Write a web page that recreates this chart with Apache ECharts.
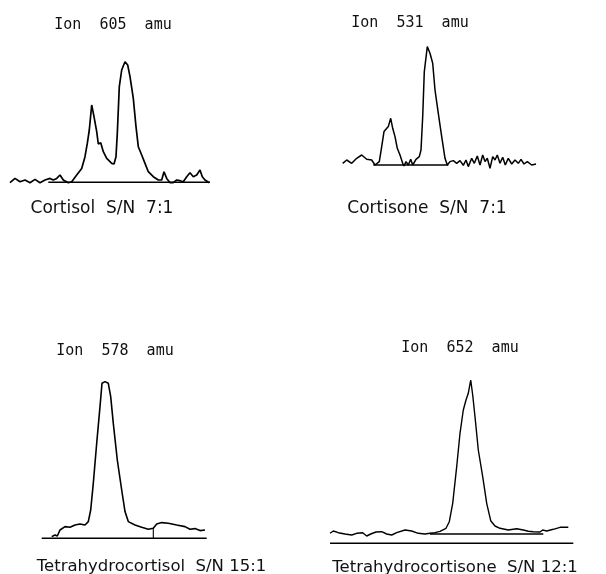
<!DOCTYPE html>
<html><head><meta charset="utf-8">
<script src="https://cdn.jsdelivr.net/npm/echarts@6/dist/echarts.min.js"></script>
<style>html,body{margin:0;padding:0;background:#fff}#c{width:606px;height:574px}</style>
</head><body><div id="c"></div>
<script>
// Panel 1: Ion 605 amu, Cortisol
const cortisolTrace = [[0,-1],[5,3.3],[10,0],[15,1.7],[20,-1],[25,2.3],[30,-1],[35,1.7],[40,3.3],[43.3,1.7],[46.7,3.3],[50,6.7],[53.3,1.7],[58.3,-1],[61.7,0],[66.7,6.7],[71.7,13.3],[75,25],[77.3,38.3],[79.3,51.7],[81.7,76.7],[84,65],[86.7,50],[88.3,37.7],[90.7,39],[93.3,30],[96.7,23.3],[101.7,18.3],[104,17.7],[106,25],[107.3,48.3],[109.3,95],[111.7,111.7],[115,120],[117.7,116.7],[120,105],[123.3,83.3],[126,55],[128.3,35],[131.7,26.7],[135,18.3],[138.3,10],[143.3,5],[148.3,1.7],[151.7,1.7],[154,10],[156.7,3.3],[160,-1],[163.3,-1],[166.7,1.7],[170,1],[173.3,0],[176.7,5],[180,9],[183.3,5],[186.7,6.7],[190,11.7],[192.3,5],[195,1.7],[199.3,-1]];
const cortisolBase = [[38.3,-0.5],[200,-0.5]];
// Panel 2: Ion 531 amu, Cortisone
const cortisoneTrace = [[0.7,1],[4.7,4.3],[9.7,1],[14.7,6],[19.7,9.3],[24.7,5],[29.7,4.3],[33,-0.7],[37.3,2.7],[39.7,17.7],[42,32.7],[46.3,37.7],[48.7,46],[50.7,36],[53,27.7],[55.3,16],[58,9.3],[60.7,1],[62,-1.7],[64,2.7],[66.3,-0.7],[68.7,5],[70.7,-0.7],[74,5],[77.3,7.7],[79,14.3],[80.7,47.7],[82.3,92.7],[85.3,117.7],[88,111],[90.7,101],[93,74.3],[96.3,51],[99.7,27.7],[103,6],[105.3,-0.7],[108,2.7],[111.3,3.7],[114.7,1],[118,3.7],[121.3,-1],[124,4.3],[126.3,-2.3],[129.7,6],[132.3,1],[135.3,8.3],[138,-0.7],[140.7,9.3],[143,2.7],[145.3,6],[148,-4],[150.7,7.7],[153,4.3],[155.3,9.3],[158,1],[160.7,7],[163.3,-0.7],[166.3,6],[169.7,0.3],[173,4.3],[176.3,1],[179,5],[182,0.3],[185.3,2.7],[189.7,-0.7],[194,0.3]];
const cortisoneBase = [[31.3,-0.7],[106.3,-0.7]];
// Panel 3: Ion 578 amu, Tetrahydrocortisol
const thfTrace = [[11.7,1.7],[15,3.3],[17.3,2.3],[20,8.3],[25,11.7],[30,11],[35,13.3],[40,14.3],[45,13.3],[48.3,16.7],[50.7,28.3],[53.3,55],[56.7,95],[60,131.7],[62,155],[65,156.7],[68.3,155],[70.7,141.7],[73.3,115],[77.3,78.3],[81.7,48.3],[85,26.7],[88.3,16.7],[95,13.3],[101.7,11],[108.3,9],[113.3,10],[116.7,14.3],[121.7,15.7],[128.3,15],[136.7,13.3],[145,11.7],[150,9],[155,9.7],[160,7.7],[165,8.3]];
const thfBase = [[1.7,0],[166.7,0]];
const thfMark = [[113.3,0],[113.3,10]];
// Panel 4: Ion 652 amu, Tetrahydrocortisone
const theTrace = [[0,0.7],[3.3,3],[8.3,1.3],[15,0],[21.7,-1],[26.7,0.7],[32.7,1.3],[36.7,-2],[40.7,0],[46,2],[51.7,2.3],[56.7,0],[61.7,-1],[66.7,1.3],[75,4],[81.7,3],[88.3,0.7],[95,0],[100,0.7],[105,1.3],[110,2.7],[116,5.7],[119.3,12.3],[122.7,30.7],[126.7,67.3],[130,100.7],[133.3,124],[136,134],[138.3,140.7],[140.7,154],[142.7,139],[145,117.3],[148.3,84],[152.7,57.3],[156.7,30.7],[160.7,13.3],[165,8],[170,5.7],[178.3,4],[186.7,5.3],[193.3,4],[198.3,2.7],[203.3,2.3],[210,2],[212.7,4],[216.7,3],[223.3,4.7],[230,6.7],[238.3,6.7]];
const theBase = [[100,0],[213.3,0]];
const theLower = [[0,-9.3],[243.3,-9.3]];

const ionTitles = ['Ion  605  amu','Ion  531  amu','Ion  578  amu','Ion  652  amu'];
const compoundLabels = ['Cortisol  S/N  7:1','Cortisone  S/N  7:1','Tetrahydrocortisol  S/N 15:1','Tetrahydrocortisone  S/N 12:1'];

const grids = [
  {left:10, top:51.7, width:200, height:140, xr:[0,200], yr:[-10,130]},
  {left:342, top:34.3, width:195, height:140, xr:[0,195], yr:[-10,130]},
  {left:40, top:373.3, width:170, height:180, xr:[0,170], yr:[-15,165]},
  {left:330, top:369, width:245, height:180, xr:[0,245], yr:[-15,165]}
];
const titlePos = [[113,25],[410,23],[115,351],[460,348]];
const labelPos = [[102,209],[427,209],[151.5,567],[455,568]];
const labelSize = [17,17,16.5,16.5];

function ser(i, data, w){
  return {type:'line', xAxisIndex:i, yAxisIndex:i, data:data, showSymbol:false, symbol:'none',
    lineStyle:{color:'#000', width:w||1.6}, animation:false, silent:true};
}
const series = [
  ser(0,cortisolTrace,1.7), ser(0,cortisolBase,1.5),
  ser(1,cortisoneTrace,1.5), ser(1,cortisoneBase,1.4),
  ser(2,thfTrace,1.6), ser(2,thfBase,1.4), ser(2,thfMark,1.1),
  ser(3,theTrace,1.4), ser(3,theBase,1.3), ser(3,theLower,1.4)
];
const graphics = [];
ionTitles.forEach((t,i)=>graphics.push({type:'text', x:titlePos[i][0], y:titlePos[i][1], silent:true,
  style:{text:t, textAlign:'center', textVerticalAlign:'middle', font:'15px "DejaVu Sans Mono"', fill:'#111'}}));
compoundLabels.forEach((t,i)=>graphics.push({type:'text', x:labelPos[i][0], y:labelPos[i][1], silent:true,
  style:{text:t, textAlign:'center', textVerticalAlign:'middle', font:labelSize[i]+'px "DejaVu Sans"', fill:'#111'}}));

const chart = echarts.init(document.getElementById('c'), null, {renderer:'canvas'});
chart.setOption({
  backgroundColor:'#fff',
  animation:false,
  graphic: graphics,
  grid: grids.map(g=>({left:g.left, top:g.top, width:g.width, height:g.height, containLabel:false})),
  xAxis: grids.map((g,i)=>({type:'value', gridIndex:i, min:g.xr[0], max:g.xr[1], show:false})),
  yAxis: grids.map((g,i)=>({type:'value', gridIndex:i, min:g.yr[0], max:g.yr[1], show:false})),
  series: series
});
</script></body></html>
